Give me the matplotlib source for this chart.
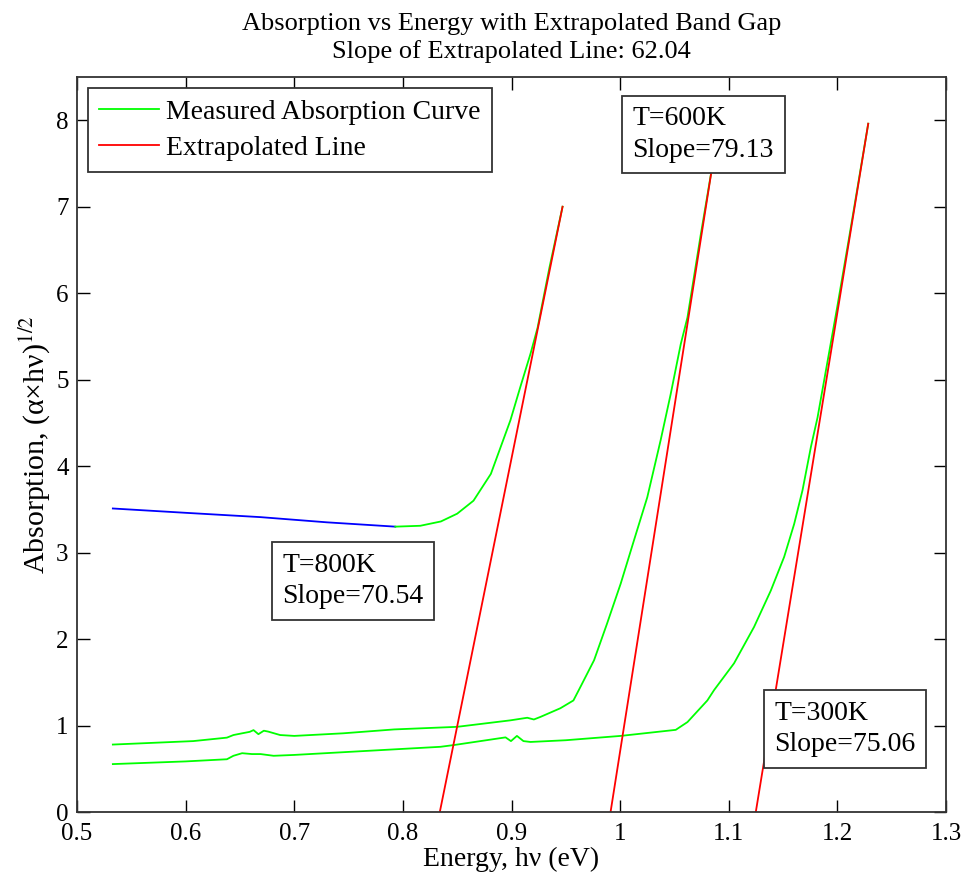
import matplotlib
matplotlib.use('Agg')
import matplotlib.pyplot as plt

plt.rcParams['font.family'] = ['Liberation Serif', 'DejaVu Serif']
plt.rcParams['mathtext.fontset'] = 'stix'

# 800K: low-energy part drawn in blue, the rest in green
blue_E = [0.533, 0.600, 0.669, 0.730, 0.793]
blue_y = [3.51, 3.46, 3.41, 3.35, 3.30]

g800_E = [0.793, 0.816, 0.835, 0.850, 0.865, 0.881, 0.890, 0.899, 0.908, 0.9175, 0.924, 0.935, 0.947]
g800_y = [3.30, 3.31, 3.36, 3.45, 3.60, 3.91, 4.22, 4.53, 4.91, 5.30, 5.60, 6.30, 7.00]

g600_E = [0.533, 0.570, 0.607, 0.638, 0.644, 0.652, 0.659, 0.6625, 0.667, 0.672, 0.676, 0.687,
          0.700, 0.745, 0.792, 0.850, 0.899, 0.9145, 0.9206, 0.9267, 0.945, 0.957, 0.9636,
          0.976, 0.988, 1.0005, 1.0127, 1.025, 1.0373, 1.0465, 1.0558, 1.062, 1.074, 1.085]
g600_y = [0.78, 0.80, 0.82, 0.86, 0.89, 0.91, 0.927, 0.947, 0.90, 0.94, 0.93, 0.89,
          0.88, 0.91, 0.955, 0.985, 1.06, 1.09, 1.07, 1.10, 1.20, 1.29, 1.45,
          1.755, 2.18, 2.64, 3.14, 3.64, 4.30, 4.83, 5.41, 5.72, 6.66, 7.48]

g300_E = [0.533, 0.600, 0.638, 0.644, 0.652, 0.661, 0.669, 0.675, 0.681, 0.700, 0.7915, 0.8346,
          0.8468, 0.8945, 0.8995, 0.905, 0.911, 0.9175, 0.950, 1.0005, 1.0512, 1.062, 1.0803,
          1.0865, 1.1049, 1.1233, 1.1387, 1.151, 1.1602, 1.1679, 1.1756, 1.1817, 1.200, 1.2109, 1.2284]
g300_y = [0.554, 0.585, 0.61, 0.65, 0.68, 0.67, 0.67, 0.66, 0.65, 0.66, 0.724, 0.754,
          0.774, 0.863, 0.82, 0.88, 0.82, 0.81, 0.83, 0.88, 0.95, 1.04, 1.29,
          1.41, 1.72, 2.14, 2.56, 2.95, 3.33, 3.72, 4.22, 4.56, 5.85, 6.65, 7.96]

# extrapolated lines (end points)
r800_E = [0.834, 0.947]
r800_y = [0.0, 7.0]
r600_E = [0.9912, 1.085]
r600_y = [0.0, 7.48]
r300_E = [1.1249, 1.2284]
r300_y = [0.0, 7.96]

labels = ['T=800K\nSlope=70.54', 'T=600K\nSlope=79.13', 'T=300K\nSlope=75.06']
label_pos = [(0.689, 2.67), (1.0115, 7.835), (1.142, 0.958)]

xticks = [0.5, 0.6, 0.7, 0.8, 0.9, 1.0, 1.1, 1.2, 1.3]
xticklabels = ['0.5', '0.6', '0.7', '0.8', '0.9', '1', '1.1', '1.2', '1.3']

fig = plt.figure(figsize=(9.64, 8.8), dpi=100)
ax = fig.add_axes([77/964, 68/880, 869/964, 735/880])

lw = 1.3
ax.plot(blue_E, blue_y, color='#0000ff', lw=lw)
ax.plot(g800_E, g800_y, color='#00ff00', lw=lw, label='Measured Absorption Curve')
ax.plot(g600_E, g600_y, color='#00ff00', lw=lw)
ax.plot(g300_E, g300_y, color='#00ff00', lw=lw)
ax.plot(r800_E, r800_y, color='#ff0000', lw=lw, label='Extrapolated Line')
ax.plot(r600_E, r600_y, color='#ff0000', lw=lw)
ax.plot(r300_E, r300_y, color='#ff0000', lw=lw)

for txt, (x, y) in zip(labels, label_pos):
    ax.text(x, y, txt, fontsize=20, ha='left', va='center', linespacing=1.35,
            bbox=dict(boxstyle='square,pad=0.38', fc='white', ec='#333333', lw=1.3))

ax.set_xlim(0.5, 1.3)
ax.set_ylim(0, 8.5)
ax.set_xticks(xticks)
ax.set_xticklabels(xticklabels)
ax.set_yticks(range(0, 9))
ax.tick_params(direction='in', length=9, width=1.0, labelsize=18, top=True, right=True)
ax.tick_params(axis='x', pad=8)
ax.tick_params(axis='y', pad=6)
for s in ax.spines.values():
    s.set_linewidth(1.3)
    s.set_color('#333333')

ax.set_xlabel('Energy, h\u03bd (eV)', fontsize=20, labelpad=1)
ax.set_ylabel('Absorption, (\u03b1\u00d7h\u03bd)$^{1/2}$', fontsize=21.5, labelpad=2)
ax.set_title('Absorption vs Energy with Extrapolated Band Gap\nSlope of Extrapolated Line: 62.04',
             fontsize=19, pad=14, linespacing=1.25)

leg = ax.legend(loc='upper left', fontsize=20, handlelength=2.15, handletextpad=0.25,
                borderaxespad=0.4, borderpad=0.4, labelspacing=0.38, fancybox=False,
                framealpha=1, edgecolor='#333333')
leg.get_frame().set_linewidth(1.3)

fig.savefig('out.png', dpi=100)
